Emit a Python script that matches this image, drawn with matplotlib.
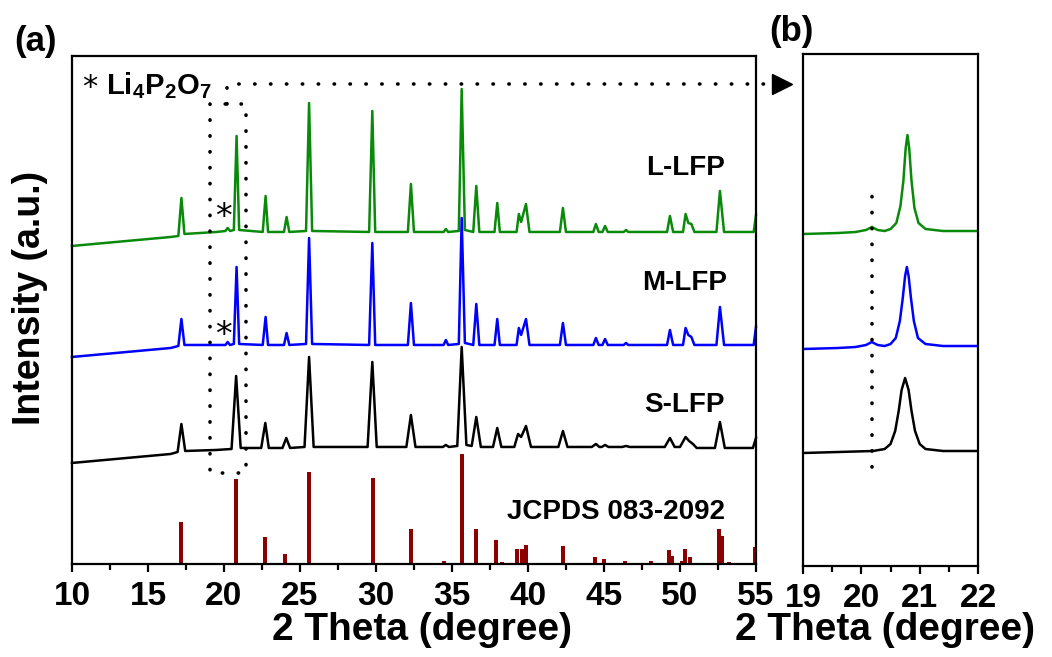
import numpy as np
import matplotlib
matplotlib.use("Agg")
import matplotlib.pyplot as plt
from matplotlib.ticker import MultipleLocator

plt.rcParams['font.family'] = ['Liberation Sans', 'DejaVu Sans']
plt.rcParams['font.weight'] = 'bold'
plt.rcParams['mathtext.fontset'] = 'custom'
plt.rcParams['mathtext.rm'] = 'Liberation Sans:bold'
plt.rcParams['mathtext.bf'] = 'Liberation Sans:bold'

# ---- data (intensity in arbitrary offset units) ----
# L-LFP (green), traced (2theta, intensity)
l_lfp = [(10, 318), (16.5, 327), (17.0, 328), (17.2, 366), (17.4, 330), (19.5, 332),
         (20.1, 333), (20.24, 336), (20.4, 333), (20.65, 334), (20.83, 428), (21.0, 334),
         (22.55, 332), (22.74, 368), (22.9, 332), (23.95, 332), (24.12, 347), (24.3, 332),
         (25.4, 333), (25.6, 461), (25.8, 333), (29.55, 332), (29.76, 453), (29.95, 332),
         (32.1, 332), (32.3, 380), (32.5, 332), (34.45, 332), (34.6, 335), (34.75, 332),
         (35.45, 333), (35.64, 475), (35.85, 334), (36.4, 332), (36.6, 378), (36.8, 332),
         (37.8, 332), (37.98, 361), (38.15, 332), (39.25, 332), (39.4, 350), (39.55, 342),
         (39.87, 360), (40.1, 332), (42.1, 332), (42.3, 356), (42.5, 332), (44.3, 332),
         (44.47, 340), (44.65, 332), (44.9, 332), (45.07, 338), (45.25, 332), (46.3, 332),
         (46.45, 334), (46.6, 332), (49.15, 332), (49.34, 348), (49.55, 332), (50.2, 332),
         (50.37, 350), (50.55, 341), (50.75, 340), (50.95, 332), (52.4, 332), (52.63, 373),
         (52.9, 332), (54.85, 332), (55.0, 349)]

# M-LFP (blue)
m_lfp = [(10, 207), (16.5, 216), (17.0, 218), (17.2, 245), (17.4, 219), (19.5, 219),
         (20.1, 219), (20.24, 222), (20.4, 219), (20.65, 220), (20.83, 297), (21.0, 220),
         (22.55, 219), (22.74, 247), (22.9, 219), (23.95, 219), (24.12, 231), (24.3, 219),
         (25.4, 220), (25.6, 326), (25.8, 220), (29.55, 219), (29.76, 321), (29.95, 219),
         (32.1, 219), (32.3, 261), (32.5, 219), (34.45, 219), (34.6, 224), (34.75, 219),
         (35.45, 220), (35.64, 346), (35.85, 221), (36.4, 219), (36.6, 260), (36.8, 219),
         (37.8, 219), (37.98, 245), (38.15, 219), (39.25, 219), (39.4, 236), (39.55, 229),
         (39.87, 245), (40.1, 219), (42.1, 219), (42.3, 241), (42.5, 219), (44.3, 219),
         (44.47, 226), (44.65, 219), (44.9, 219), (45.07, 225), (45.25, 219), (46.3, 219),
         (46.45, 221), (46.6, 219), (49.15, 219), (49.34, 234), (49.55, 219), (50.2, 219),
         (50.37, 236), (50.55, 229), (50.75, 227), (50.95, 219), (52.4, 219), (52.63, 257),
         (52.9, 219), (54.85, 219), (55.0, 237)]

# S-LFP (black)
s_lfp = [(10, 101), (16.5, 110), (16.95, 112), (17.2, 140), (17.45, 113), (19.5, 114),
         (20.5, 115), (20.8, 188), (21.1, 116), (22.45, 116), (22.72, 141), (22.95, 116),
         (23.85, 116), (24.1, 126), (24.35, 116), (25.3, 117), (25.6, 207), (25.9, 117),
         (29.45, 117), (29.76, 202), (30.05, 117), (32.0, 117), (32.3, 149), (32.6, 117),
         (34.4, 117), (34.6, 119), (34.8, 117), (35.35, 118), (35.64, 217), (35.95, 119),
         (36.3, 118), (36.6, 147), (36.9, 117), (37.7, 117), (37.98, 136), (38.25, 117),
         (39.1, 117), (39.35, 130), (39.55, 127), (39.87, 138), (40.2, 117), (42.0, 117),
         (42.3, 133), (42.6, 117), (44.2, 117), (44.47, 120), (44.7, 117), (44.85, 117),
         (45.07, 119), (45.3, 117), (46.2, 117), (46.45, 118), (46.7, 117), (49.0, 117),
         (49.34, 126), (49.65, 117), (50.0, 117), (50.37, 127), (50.6, 123), (50.85, 120),
         (51.1, 116), (52.3, 116), (52.63, 142), (52.95, 116), (54.8, 116), (55.0, 126)]

# JCPDS 083-2092 reference lines
ref_pos = [17.19, 20.8, 22.7, 24.0, 25.6, 29.8, 32.3, 34.5, 35.64, 36.56, 37.9, 38.3,
           39.3, 39.6, 39.87, 42.3, 44.4, 45.0, 46.4, 46.85, 48.1, 48.75, 49.25, 49.5,
           50.1, 50.3, 50.66, 52.55, 52.76, 53.2, 54.95]
ref_int = [42, 85, 27, 10, 92, 86, 35, 3, 110, 35, 24, 2,
           15, 15, 19, 18, 7, 5, 3, 1, 3, 1, 14, 8,
           3, 15, 7, 35, 28, 2, 17]

# zoom panel (b), 19-22 degree
l_zoom = [(19.0, 332), (19.6, 333), (19.9, 334), (20.08, 336), (20.18, 339), (20.28, 336),
          (20.4, 335), (20.5, 337), (20.6, 343), (20.67, 360), (20.72, 385), (20.76, 418),
          (20.79, 431), (20.82, 418), (20.86, 385), (20.91, 358), (20.98, 343), (21.1, 337),
          (21.4, 335), (22.0, 335)]
m_zoom = [(19.0, 217), (19.6, 218), (19.9, 219), (20.08, 221), (20.18, 224), (20.28, 221),
          (20.4, 220), (20.5, 222), (20.59, 228), (20.66, 245), (20.71, 268), (20.75, 290),
          (20.78, 299), (20.81, 290), (20.85, 268), (20.9, 245), (20.97, 228), (21.1, 222),
          (21.4, 220), (22.0, 220)]
s_zoom = [(19.0, 113), (19.6, 114), (20.2, 115), (20.4, 117), (20.5, 122), (20.58, 135),
          (20.64, 155), (20.69, 176), (20.75, 188), (20.81, 176), (20.86, 155), (20.92, 135),
          (21.0, 122), (21.1, 117), (21.4, 115), (22.0, 115)]

labels = ['L-LFP', 'M-LFP', 'S-LFP']
colors = ['#0a8a0a', '#0000ff', '#000000']

fig = plt.figure(figsize=(10.52, 6.57), dpi=100)
ax = fig.add_axes([0.0684, 0.1416, 0.6502, 0.7732])
axb = fig.add_axes([0.7633, 0.1385, 0.1664, 0.7793])

for data, c in zip([l_lfp, m_lfp, s_lfp], colors):
    x, y = np.array(data).T
    ax.plot(x, y, color=c, lw=1.8, clip_on=False)
ax.bar(ref_pos, ref_int, width=0.26, color='#8b0000', bottom=0)

for data, c in zip([l_zoom, m_zoom, s_zoom], colors):
    x, y = np.array(data).T
    axb.plot(x, y, color=c, lw=1.8)

# sample labels
ax.text(50.4, 396, labels[0], fontsize=20, ha='center', va='center')
ax.text(50.33, 281, labels[1], fontsize=20, ha='center', va='center')
ax.text(50.26, 159, labels[2], fontsize=20, ha='center', va='center')
ax.text(45.8, 52, 'JCPDS 083-2092', fontsize=20, ha='center', va='center')

# impurity markers
ax.text(11.18, 476, '*', fontsize=22, fontweight='normal', family='DejaVu Sans',
        ha='center', va='center')
ax.text(12.25, 470, r'Li$_{\mathbf{4}}$P$_{\mathbf{2}}$O$_{\mathbf{7}}$', fontsize=21,
        ha='left', va='baseline')
for yy in [346, 228]:
    ax.text(19.95, yy, '*', fontsize=24, fontweight='normal', family='DejaVu Sans',
            ha='center', va='center')

# dotted box and pointer to panel (b)
dots = dict(color='black', lw=2.6, linestyle=(0, (0.1, 4.3)), dash_capstyle='round',
            clip_on=False)
ax.plot([19.08, 19.08, 21.48, 21.48, 19.08], [460, 91, 91, 460, 460], **dots)
ax.plot([20.2, 20.2, 55.9], [460, 480, 480], **dots)
ax.plot([56.7], [480], marker='>', color='black', markersize=14, clip_on=False)
axb.plot([20.18, 20.18], [99, 376], **dots)

for a in (ax, axb):
    for s in a.spines.values():
        s.set_linewidth(1.6)
    a.set_yticks([])
    a.tick_params(axis='x', which='major', length=6, width=1.6, labelsize=24, pad=6)
    a.tick_params(axis='x', which='minor', length=4, width=1.6)

ax.set_xlim(10, 55)
ax.set_ylim(0, 508)
ax.xaxis.set_major_locator(MultipleLocator(5))
ax.xaxis.set_minor_locator(MultipleLocator(2.5))

axb.set_xlim(19, 22)
axb.set_ylim(0, 512)
axb.xaxis.set_major_locator(MultipleLocator(1))
axb.xaxis.set_minor_locator(MultipleLocator(0.5))

fig.text(422 / 1052, 1 - 630 / 657, '2 Theta (degree)', fontsize=28, ha='center', va='center')
fig.text(885 / 1052, 1 - 630 / 657, '2 Theta (degree)', fontsize=28, ha='center', va='center')
fig.text(30 / 1052, 1 - 298 / 657, 'Intensity (a.u.)', fontsize=27, rotation=90,
         ha='center', va='center')
fig.text(36 / 1052, 1 - 41 / 657, '(a)', fontsize=25, ha='center', va='center')
fig.text(791 / 1052, 1 - 31 / 657, '(b)', fontsize=25, ha='center', va='center')

fig.savefig('out.png', dpi=100)
